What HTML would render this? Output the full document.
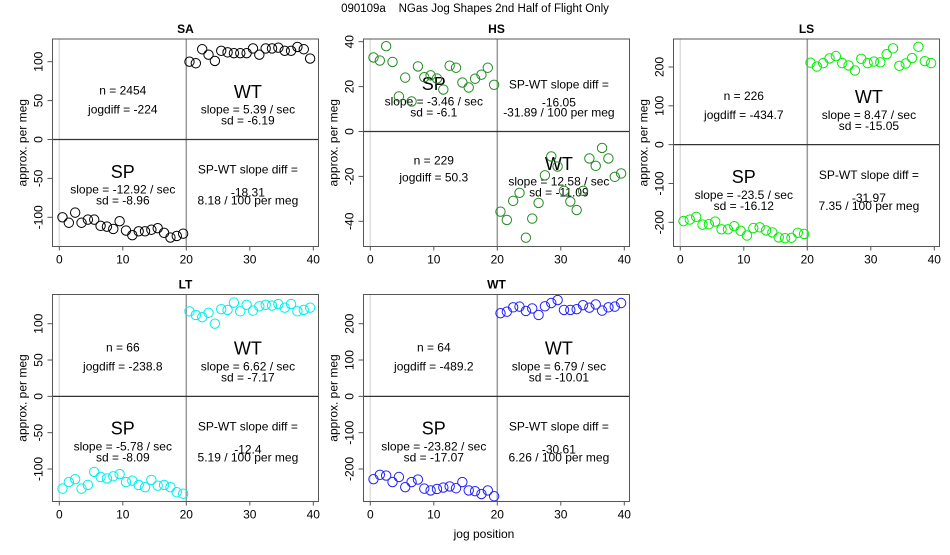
<!DOCTYPE html>
<html><head><meta charset="utf-8"><style>
body{margin:0;background:#fff;}
svg text{font-family:"Liberation Sans",sans-serif;fill:#000;}
</style></head><body>
<svg id="c" width="950" height="550" xmlns="http://www.w3.org/2000/svg">
<text x="475" y="12" font-size="11.5" text-anchor="middle" style="white-space:pre">090109a    NGas Jog Shapes 2nd Half of Flight Only</text>
<text x="484" y="538" font-size="12" text-anchor="middle">jog position</text>
</svg>
<script>
const jogPositions = [0.5,1.5,2.5,3.5,4.5,5.5,6.5,7.5,8.5,9.5,10.5,11.5,12.5,13.5,14.5,15.5,16.5,17.5,18.5,19.5,20.5,21.5,22.5,23.5,24.5,25.5,26.5,27.5,28.5,29.5,30.5,31.5,32.5,33.5,34.5,35.5,36.5,37.5,38.5,39.5];
const xTicks = [0,10,20,30,40];
const saValues = [-100,-107,-94,-107,-103,-103,-111,-112,-115,-105,-117,-123,-118,-118,-116,-114,-120,-126,-124,-121,100,98,116,109,101,114,112,111,111,111,117,109,117,117,118,114,114,119,116,104];
const hsValues = [33,31.6,38,31,15.6,24,13.4,29,24.2,25,23.6,18.7,29.3,28.4,21.8,19.6,23.5,25.3,28.4,20.8,-35.7,-39.4,-30.9,-27.3,-47.3,-38.8,-31.8,-19.5,-11.1,-15.6,-26.4,-31.2,-35,-26.4,-12,-15.3,-7.3,-12,-20.2,-18.7];
const lsValues = [-197,-193,-186,-206,-205,-198,-218,-218,-210,-222,-234,-215,-213,-221,-226,-239,-241,-240,-227,-230,211,201,210,222,228,210,204,191,221,210,214,212,233,248,203,209,223,252,215,210];
const ltValues = [-127,-118,-114,-127,-122,-104,-111,-113,-110,-107,-118,-116,-122,-125,-115,-123,-122,-125,-132,-134,117,112,109,115,100,120,119,129,117,126,118,124,126,125,127,122,127,117,119,122];
const wtValues = [-228,-216,-218,-236,-222,-250,-236,-229,-254,-259,-255,-251,-248,-253,-236,-259,-261,-269,-259,-275,229,233,245,247,235,242,224,248,257,265,238,238,240,251,244,253,236,245,247,257];
const saTicks = [-100,-50,0,50,100];
const hsTicks = [-40,-20,0,20,40];
const lsTicks = [-200,-100,0,100,200];
const ltTicks = [-100,-50,0,50,100];
const wtTicks = [-200,-100,0,100,200];

const NS='http://www.w3.org/2000/svg';
const svg=document.getElementById('c');
function mk(tag,attrs,parent){const e=document.createElementNS(NS,tag);for(const k in attrs)e.setAttribute(k,attrs[k]);(parent||svg).appendChild(e);return e;}

const panels=[
 {name:'SA',vals:saValues,ticks:saTicks,color:'#000',box:[52.5,39,318.5,246.5],yr:[100,61.7,-100,217.3],
  n:'n = 2454',jd:'jogdiff = -224',wt:['slope = 5.39 / sec','sd = -6.19'],sp:['slope = -12.92 / sec','sd = -8.96'],df:['-18.31','8.18 / 100 per meg'],spTop:false},
 {name:'HS',vals:hsValues,ticks:hsTicks,color:'#228b22',box:[363.5,39,629.5,246.5],yr:[40,41.7,-40,221.3],
  n:'n = 229',jd:'jogdiff = 50.3',wt:['slope = 12.58 / sec','sd = -11.09'],sp:['slope = -3.46 / sec','sd = -6.1'],df:['-16.05','-31.89 / 100 per meg'],spTop:true},
 {name:'LS',vals:lsValues,ticks:lsTicks,color:'#00ee00',box:[673.5,39,939.5,246.5],yr:[200,67,-200,222.3],
  n:'n = 226',jd:'jogdiff = -434.7',wt:['slope = 8.47 / sec','sd = -15.05'],sp:['slope = -23.5 / sec','sd = -16.12'],df:['-31.97','7.35 / 100 per meg'],spTop:false},
 {name:'LT',vals:ltValues,ticks:ltTicks,color:'#00eeee',box:[52.5,294.5,318.5,501.5],yr:[100,323.7,-100,469],
  n:'n = 66',jd:'jogdiff = -238.8',wt:['slope = 6.62 / sec','sd = -7.17'],sp:['slope = -5.78 / sec','sd = -8.09'],df:['-12.4','5.19 / 100 per meg'],spTop:false},
 {name:'WT',vals:wtValues,ticks:wtTicks,color:'#2222ff',box:[363.5,294.5,629.5,501.5],yr:[200,323.7,-200,469],
  n:'n = 64',jd:'jogdiff = -489.2',wt:['slope = 6.79 / sec','sd = -10.01'],sp:['slope = -23.82 / sec','sd = -17.07'],df:['-30.61','6.26 / 100 per meg'],spTop:false}
];

panels.forEach(p=>{
 const [l,t,r,b]=p.box;
 const x0=l+6.8, x1=r-5.2;
 const xs=v=>x0+(v-0)*(x1-x0)/40;
 const ys=v=>p.yr[1]+(v-p.yr[0])*(p.yr[3]-p.yr[1])/(p.yr[2]-p.yr[0]);
 const g=mk('g',{});
 
 
 const tt=mk('text',{x:(l+r)/2,y:t-6,'font-size':12,'font-weight':'bold','text-anchor':'middle'},g);
 tt.textContent=p.name;
 
 
 mk('line',{x1:xs(0),y1:t,x2:xs(0),y2:b,stroke:'#ddd','stroke-width':1.5},g);
 mk('line',{x1:xs(20),y1:t,x2:xs(20),y2:b,stroke:'#999','stroke-width':1.5},g);
 mk('line',{x1:l,y1:ys(0),x2:r,y2:ys(0),stroke:'#333','stroke-width':1.2},g);
 const bx=mk('rect',{x:l,y:t,width:r-l,height:b-t,fill:'none',stroke:'#555','stroke-width':1},g);
 
 
 xTicks.forEach(v=>{
  mk('line',{x1:xs(v),y1:b,x2:xs(v),y2:b+4,stroke:'#555'},g);
  const tx=mk('text',{x:xs(v),y:b+17,'font-size':12,'text-anchor':'middle'},g);
  tx.textContent=v;
  
  
 });
 p.ticks.forEach(v=>{
  mk('line',{x1:l-5,y1:ys(v),x2:l,y2:ys(v),stroke:'#555'},g);
  const ty=mk('text',{x:l-10,y:ys(v),'font-size':12,'text-anchor':'middle',transform:`rotate(-90 ${l-10} ${ys(v)})`},g);
  ty.textContent=v;
  
  
 });
 const yl=mk('text',{x:l-26,y:(t+b)/2,'font-size':12,'text-anchor':'middle',transform:`rotate(-90 ${l-26} ${(t+b)/2})`},g);
 yl.textContent='approx. per meg';
 
 
 const z=ys(0), cl=xs(10), cr=xs(29.7);
 function txt(s,x,y,fs,name){const e=mk('text',{x:x,y:y+fs*0.35,'font-size':fs,'text-anchor':'middle'},g);e.textContent=s;
  
  }
 const up=-1, dn=1;
 const spS=p.spTop?up:dn;
 const nS=-spS;
 function block(sign,x,big,lines,bigName){
  if(sign<0){txt(big,x,z-48,18,bigName);txt(lines[0],x,z-30,12,bigName+'-slope');txt(lines[1],x,z-19,12,bigName+'-sd');}
  else{txt(big,x,z+32,18,bigName);txt(lines[0],x,z+50,12,bigName+'-slope');txt(lines[1],x,z+61,12,bigName+'-sd');}
 }
 block(spS,cl,'SP',p.sp,'sp-label');
 block(nS,cr,'WT',p.wt,'wt-label');
 if(nS<0){txt(p.n,cl,z-49,12,'n-count');txt(p.jd,cl,z-30,12,'jogdiff');}
 else{txt(p.n,cl,z+29,12,'n-count');txt(p.jd,cl,z+46,12,'jogdiff');}
 if(spS>0){txt('SP-WT slope diff =',cr,z+30,12,'slope-diff-label');txt(p.df[0],cr,z+53,12,'slope-diff-value');txt(p.df[1],cr,z+61,12,'per-meg-value');}
 else{txt('SP-WT slope diff =',cr,z-47,12,'slope-diff-label');txt(p.df[0],cr,z-29,12,'slope-diff-value');txt(p.df[1],cr,z-19,12,'per-meg-value');}
 p.vals.forEach((v,i)=>{
  const c=mk('circle',{cx:xs(jogPositions[i]),cy:ys(v),r:4.7,fill:'none',stroke:p.color,'stroke-width':1},g);
  
  
 });
});
</script>
</body></html>
